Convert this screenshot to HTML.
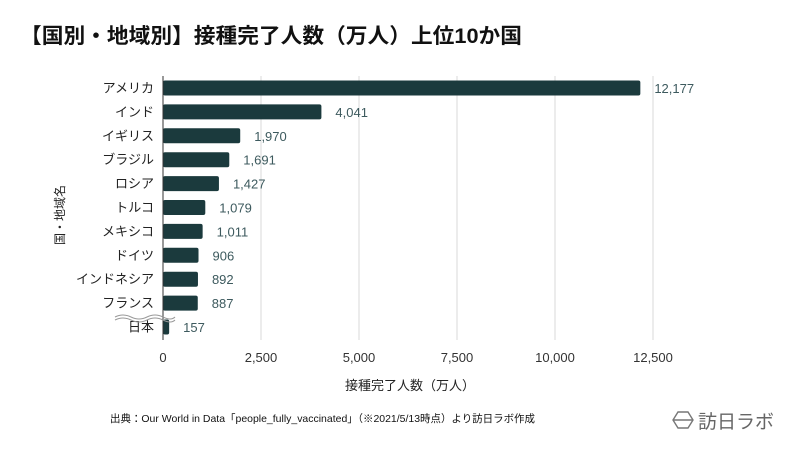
<!DOCTYPE html>
<html><head><meta charset="utf-8"><style>
body{margin:0;background:#fff;font-family:"Liberation Sans","Noto Sans CJK JP",sans-serif}
#wrap{position:relative;width:800px;height:450px;overflow:hidden}
</style></head><body>
<div id="wrap">
<svg id="chart" width="800" height="450"></svg>
</div>
<script>
const categories=["アメリカ","インド","イギリス","ブラジル","ロシア","トルコ","メキシコ","ドイツ","インドネシア","フランス","日本"];
const values=[12177,4041,1970,1691,1427,1079,1011,906,892,887,157];
const valueLabels=["12,177","4,041","1,970","1,691","1,427","1,079","1,011","906","892","887","157"];
const ticks=[0,2500,5000,7500,10000,12500];
const tickLabels=["0","2,500","5,000","7,500","10,000","12,500"];
const NS="http://www.w3.org/2000/svg";
const svg=document.getElementById('chart');
const x0=163,x1=653,max=12500,yTop=76,step=23.9;
const xs=v=>x0+v/max*(x1-x0);
const yc=i=>yTop+12+i*step;
function mk(t,a,txt){const e=document.createElementNS(NS,t);for(const k in a)e.setAttribute(k,a[k]);if(txt!=null)e.textContent=txt;svg.appendChild(e);return e;}
let e;
e=mk('text',{x:20,y:43,'font-size':21,'font-weight':'bold',fill:'#111',textLength:502,lengthAdjust:'spacingAndGlyphs'},'【国別・地域別】接種完了人数（万人）上位10か国');


ticks.forEach((t,i)=>{
 if(i>0){e=mk('line',{x1:xs(t),x2:xs(t),y1:yTop,y2:340,stroke:'#d9d9d9','stroke-width':1});
 
 }
 e=mk('text',{x:xs(t),y:362,'font-size':13,fill:'#333','text-anchor':'middle'},tickLabels[i]);
 
 
});
categories.forEach((c,i)=>{
 const y=yc(i);
 e=mk('rect',{x:x0,y:y-7.5,width:xs(values[i])-x0,height:15,rx:2,fill:'#1b3a3d'});
 
 
 e=mk('text',{x:154,y:y+4.5,'font-size':13,fill:'#222','text-anchor':'end'},c);
 
 
 e=mk('text',{x:xs(values[i])+14,y:y+5,'font-size':13,fill:'#3d5a5e'},valueLabels[i]);
 
 
});
e=mk('line',{x1:x0,x2:x0,y1:yTop,y2:340,stroke:'#333','stroke-width':1});


e=mk('path',{d:'M115 317 q8 -4 16 0 t16 0 t16 0 t12 0 M115 320 q8 -4 16 0 t16 0 t16 0 t12 0',fill:'none',stroke:'#999','stroke-width':1});


e=mk('text',{x:410,y:390,'font-size':13,fill:'#222','text-anchor':'middle'},'接種完了人数（万人）');


e=mk('text',{x:0,y:0,'font-size':12,fill:'#222','text-anchor':'middle',transform:'translate(64,215) rotate(-90)'},'国・地域名');


e=mk('text',{x:110,y:422,'font-size':10.5,fill:'#111',textLength:425,lengthAdjust:'spacingAndGlyphs'},'出典：Our World in Data「people_fully_vaccinated」（※2021/5/13時点）より訪日ラボ作成');


e=mk('path',{d:'M678 412 h10 l5 8 l-5 8 h-10 l-5 -8 z M673 420 h20',fill:'none',stroke:'#777','stroke-width':1.4});


e=mk('text',{x:698,y:428,'font-size':19,fill:'#666'},'訪日ラボ');


</script>
</body></html>
